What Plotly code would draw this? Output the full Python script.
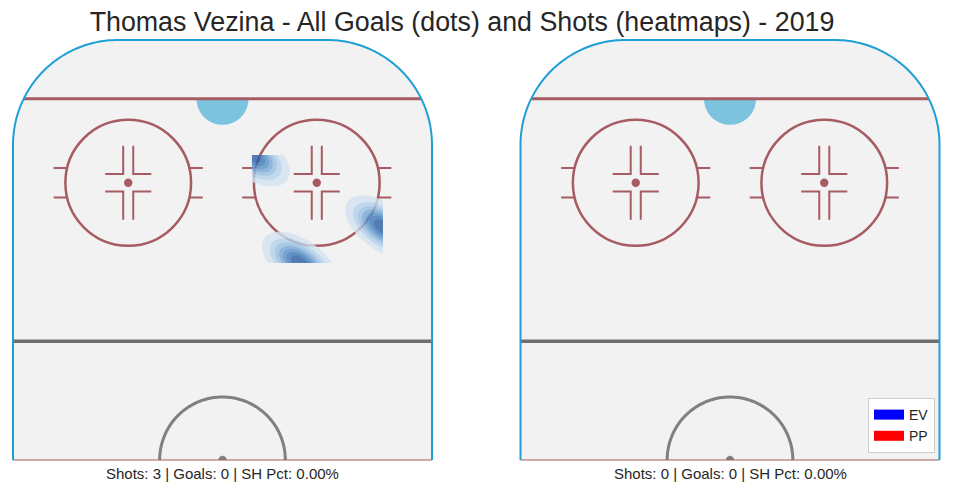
"""Shot map for one player: rink halves with a KDE heatmap of shot locations."""
import numpy as np
import plotly.graph_objects as go

# ---- data -------------------------------------------------------------
player = "Thomas Vezina"
season = "2019"
panel_shots = [3, 0]
panel_goals = [0, 0]
# shot locations in rink units (x across the ice, y from centre line to end boards)
shot_x = [7.0, 38.3, 18.5]
shot_y = [72.6, 55.5, 46.9]
legend_names = ["EV", "PP"]
legend_colors = ["#0000ff", "#ff0000"]

# ---- rink geometry (half rink, units) ---------------------------------
HALF_W = 50.0
LENGTH = 100.0
CORNER_R = 25.0
GOAL_Y = 86.0
BLUE_Y = 28.3
CREASE_R = 6.2
FO_X = 22.5
FO_Y = 66.0
FO_R = 15.0
CENTER_R = 15.0

RED = "#a65c62"
BOARD = "#1e9fd6"
GRAY = "#808080"
BLUELINE = "#6e6e6e"
ICE = "#f2f2f2"
CREASE = "#7cc3e0"
TEXT = "#262626"
FONT = "Liberation Sans, Arial, sans-serif"

BW = 0.26          # kde bandwidth factor
LEVEL_START = 0.09
LEVEL_SIZE = 0.13
BAND_COLORS = ["#d3e3f2", "#b5d0ea", "#97bee2", "#75a7d7", "#5690c9", "#3b77b8", "#2a5ea3"]

# page layout helpers: the page body adds an ~8px offset
W, H, OFF = 953, 493, 8


def px_x(p):
    return (p - OFF) / W


def px_y(p):
    return 1 - (p - OFF) / H


def _path(xs, ys, close=False):
    pts = [f"{x:.3f},{y:.3f}" for x, y in zip(xs, ys)]
    return "M" + " L".join(pts) + (" Z" if close else "")


def _arc(cx, cy, r, a0, a1, n=60):
    t = np.radians(np.linspace(a0, a1, n))
    return cx + r * np.cos(t), cy + r * np.sin(t)


def rink_shapes(xr, yr):
    shapes = []

    def add(**kw):
        kw.update(xref=xr, yref=yr, layer="below")
        shapes.append(kw)

    # boards outline
    lx, ly = _arc(-HALF_W + CORNER_R, LENGTH - CORNER_R, CORNER_R, 180, 90)
    rx, ry = _arc(HALF_W - CORNER_R, LENGTH - CORNER_R, CORNER_R, 90, 0)
    bx = np.concatenate([[-HALF_W], lx, rx, [HALF_W]])
    by = np.concatenate([[0.0], ly, ry, [0.0]])
    add(type="path", path=_path(bx, by, close=True), fillcolor=ICE, line=dict(width=0))

    # crease
    cx_, cy_ = _arc(0, GOAL_Y, CREASE_R, 180, 360)
    add(type="path", path=_path(cx_, cy_, close=True), fillcolor=CREASE, line=dict(width=0))

    # goal line
    dy = GOAL_Y - (LENGTH - CORNER_R)
    gx = HALF_W - CORNER_R + np.sqrt(CORNER_R ** 2 - dy ** 2)
    add(type="line", x0=-gx, x1=gx, y0=GOAL_Y, y1=GOAL_Y, line=dict(color=RED, width=3))

    # faceoff circles
    for sx in (-1, 1):
        cx = sx * FO_X
        add(type="circle", x0=cx - FO_R, x1=cx + FO_R, y0=FO_Y - FO_R, y1=FO_Y + FO_R,
            line=dict(color=RED, width=2.5))
        add(type="circle", x0=cx - 1.0, x1=cx + 1.0, y0=FO_Y - 1.0, y1=FO_Y + 1.0,
            fillcolor=RED, line=dict(width=0))
        hy = 3.5
        hin = np.sqrt(FO_R ** 2 - hy ** 2)
        for side in (-1, 1):
            for vy in (-1, 1):
                add(type="line", x0=cx + side * hin, x1=cx + side * 17.8,
                    y0=FO_Y + vy * hy, y1=FO_Y + vy * hy, line=dict(color=RED, width=2))
                # L marks around the dot
                add(type="path",
                    path=_path([cx + side * 1.2, cx + side * 1.2, cx + side * 5.5],
                               [FO_Y + vy * 8.8, FO_Y + vy * 2.1, FO_Y + vy * 2.1]),
                    line=dict(color=RED, width=2))

    # blue line (drawn grey)
    add(type="line", x0=-HALF_W, x1=HALF_W, y0=BLUE_Y, y1=BLUE_Y,
        line=dict(color=BLUELINE, width=3.5))

    # centre circle and dot (upper halves)
    ccx, ccy = _arc(0, 0, CENTER_R, 0, 180)
    add(type="path", path=_path(ccx, ccy), line=dict(color=GRAY, width=3))
    dx_, dy_ = _arc(0, 0, 1.0, 0, 180, n=20)
    add(type="path", path=_path(dx_, dy_, close=True), fillcolor=GRAY, line=dict(width=0))

    # centre line and boards
    add(type="line", x0=-HALF_W, x1=HALF_W, y0=0, y1=0, line=dict(color=RED, width=1))
    add(type="path", path=_path(bx, by), line=dict(color=BOARD, width=2))
    return shapes


def kde_grid(xs, ys, n=160):
    pts = np.vstack([xs, ys])
    cov = np.cov(pts) * BW ** 2
    inv = np.linalg.inv(cov)
    gx = np.linspace(min(xs), max(xs), n)
    gy = np.linspace(min(ys), max(ys), n)
    X, Y = np.meshgrid(gx, gy)
    z = np.zeros_like(X)
    for px, py in zip(xs, ys):
        dx, dy = X - px, Y - py
        q = inv[0, 0] * dx * dx + 2 * inv[0, 1] * dx * dy + inv[1, 1] * dy * dy
        z += np.exp(-0.5 * q)
    return gx, gy, z / z.max()


fig = go.Figure()

gx, gy, z = kde_grid(shot_x, shot_y)
nc = len(BAND_COLORS)
colorscale = [[0.0, "rgba(0,0,0,0)"]] + [[(k + 1) / nc, c] for k, c in enumerate(BAND_COLORS)]
fig.add_trace(go.Contour(
    x=gx, y=gy, z=z, xaxis="x", yaxis="y",
    contours=dict(start=LEVEL_START, end=LEVEL_START + (nc - 1) * LEVEL_SIZE + 0.001,
                  size=LEVEL_SIZE, coloring="fill", showlines=False),
    colorscale=colorscale, showscale=False, opacity=0.8, hoverinfo="skip",
    line=dict(width=0), showlegend=False,
))

for name, color in zip(legend_names, legend_colors):
    fig.add_trace(go.Scatter(x=[None], y=[None], xaxis="x2", yaxis="y2", mode="lines",
                             name=name, line=dict(color=color, width=11)))

shapes = rink_shapes("x", "y") + rink_shapes("x2", "y2")

axis_common = dict(showgrid=False, zeroline=False, showticklabels=False, ticks="",
                   showline=False, fixedrange=True)
PX_PER_UNIT = 4.19
xr = [-HALF_W - 1, HALF_W + 1]
yr = [-2, LENGTH + 2]
half_px = (HALF_W + 1) * PX_PER_UNIT
left_c, right_c = 222.5, 730.0
ydom = [px_y(460 + 2 * 4.2), px_y(40 - 2 * 4.2)]

annotations = []
for cx_px, s, g in zip([222.0, 730.0], panel_shots, panel_goals):
    pct = 0.0 if s == 0 else 100.0 * g / s
    annotations.append(dict(
        text=f"Shots: {s} | Goals: {g} | SH Pct: {pct:.2f}%",
        xref="paper", yref="paper", x=px_x(cx_px), y=px_y(473),
        xanchor="center", yanchor="middle", showarrow=False,
        font=dict(family=FONT, size=15, color=TEXT),
    ))

fig.update_layout(
    width=W, height=H,
    margin=dict(l=0, r=0, t=0, b=0),
    paper_bgcolor="white", plot_bgcolor="white",
    title=dict(text=f"{player} - All Goals (dots) and Shots (heatmaps) - {season}",
               x=px_x(462), xanchor="center", y=1 - 4 / H, yanchor="top",
               font=dict(family=FONT, size=26.8, color=TEXT)),
    xaxis=dict(domain=[px_x(left_c - half_px), px_x(left_c + half_px)], range=xr, **axis_common),
    yaxis=dict(domain=ydom, range=yr, **axis_common),
    xaxis2=dict(domain=[px_x(right_c - half_px), px_x(right_c + half_px)], range=xr,
                **axis_common),
    yaxis2=dict(domain=ydom, range=yr, anchor="x2", **axis_common),
    shapes=shapes,
    annotations=annotations,
    legend=dict(x=px_x(935), y=px_y(453), xanchor="right", yanchor="bottom",
                bgcolor="white", bordercolor="#cccccc", borderwidth=1,
                font=dict(family=FONT, size=14, color=TEXT)),
    showlegend=True,
)

fig.write_html("out.html")
